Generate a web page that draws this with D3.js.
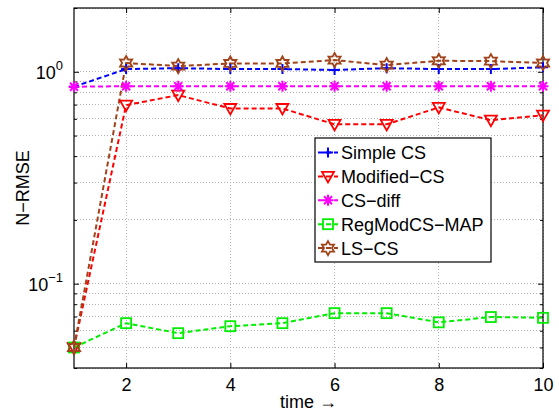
<!DOCTYPE html>
<html>
<head>
<meta charset="utf-8">
<script src="https://cdn.jsdelivr.net/npm/d3@7"></script>
<style>
  body { margin: 0; background: #fff; }
  svg { display: block; font-family: "Liberation Sans", Arial, Helvetica, sans-serif; }
</style>
</head>
<body>
<svg id="chart" width="559" height="415"></svg>
<script>
// Time steps and N-RMSE per method
const time = [1, 2, 3, 4, 5, 6, 7, 8, 9, 10];
const simpleCS   = [0.85, 1.03, 1.04, 1.03, 1.03, 1.02, 1.04, 1.03, 1.03, 1.05];
const modifiedCS = [0.05, 0.696, 0.776, 0.671, 0.671, 0.565, 0.565, 0.679, 0.591, 0.624];
const csDiff     = [0.85, 0.855, 0.855, 0.855, 0.855, 0.855, 0.855, 0.855, 0.855, 0.855];
const regModCS   = [0.05, 0.0651, 0.0584, 0.063, 0.0651, 0.0726, 0.0726, 0.0657, 0.0696, 0.069];
const lsCS       = [0.05, 1.10, 1.064, 1.095, 1.095, 1.136, 1.076, 1.127, 1.123, 1.10];

const seriesNames = ["Simple CS", "Modified\u2212CS", "CS\u2212diff", "RegModCS\u2212MAP", "LS\u2212CS"];
const xTicks = [2, 4, 6, 8, 10];
const yMajorTicks = [0.1, 1];

const series = [
  { name: seriesNames[0], values: simpleCS,   color: "#0000ff", marker: "plus" },
  { name: seriesNames[1], values: modifiedCS, color: "#ff0000", marker: "triangleDown" },
  { name: seriesNames[2], values: csDiff,     color: "#ff00ff", marker: "asterisk" },
  { name: seriesNames[3], values: regModCS,   color: "#00ee00", marker: "square" },
  { name: seriesNames[4], values: lsCS,       color: "#a0421a", marker: "hexagram" }
];

const svg = d3.select("#chart");
const L = 74, R = 543, T = 8, B = 368;

const x = d3.scaleLinear().domain([1, 10]).range([L, R]);
const y = d3.scaleLog().domain([0.04, 2]).range([B, T]);

// minor log ticks
const yMinor = [];
for (const dec of [0.01, 0.1, 1]) {
  for (let k = 2; k <= 9; k++) {
    const v = +(k * dec).toFixed(4);
    if (v >= 0.04 && v <= 2) yMinor.push(v);
  }
}

// grid
const grid = svg.append("g").attr("stroke", "#b5b5b5").attr("stroke-width", 1)
  .attr("stroke-dasharray", "1,2").attr("shape-rendering", "crispEdges");
xTicks.forEach(t => {
  grid.append("line").attr("x1", x(t)).attr("x2", x(t)).attr("y1", T).attr("y2", B);
});
yMajorTicks.concat(yMinor).forEach(v => {
  grid.append("line").attr("x1", L).attr("x2", R).attr("y1", y(v)).attr("y2", y(v));
});

// axes with inward ticks on all four sides
const axB = d3.axisBottom(x).tickValues(xTicks).tickSizeInner(-5).tickSizeOuter(0).tickPadding(10);
const axT = d3.axisTop(x).tickValues(xTicks).tickSizeInner(-5).tickSizeOuter(0).tickFormat("");
const axL = d3.axisLeft(y).tickValues(yMajorTicks).tickSizeInner(-5).tickSizeOuter(0).tickFormat("");
const axR = d3.axisRight(y).tickValues(yMajorTicks).tickSizeInner(-5).tickSizeOuter(0).tickFormat("");
const axLm = d3.axisLeft(y).tickValues(yMinor).tickSizeInner(-3).tickSizeOuter(0).tickFormat("");
const axRm = d3.axisRight(y).tickValues(yMinor).tickSizeInner(-3).tickSizeOuter(0).tickFormat("");

function styleAxis(g) {
  g.select(".domain").remove();
  g.selectAll(".tick line").attr("stroke", "#000").attr("stroke-width", 1);
  g.selectAll(".tick text").attr("font-size", 18).attr("fill", "#000")
    .attr("font-family", "'Liberation Sans', Arial, sans-serif");
}
svg.append("g").attr("transform", `translate(0,${B})`).call(axB).call(styleAxis);
svg.append("g").attr("transform", `translate(0,${T})`).call(axT).call(styleAxis);
svg.append("g").attr("transform", `translate(${L},0)`).call(axL).call(styleAxis);
svg.append("g").attr("transform", `translate(${R},0)`).call(axR).call(styleAxis);
svg.append("g").attr("transform", `translate(${L},0)`).call(axLm).call(styleAxis);
svg.append("g").attr("transform", `translate(${R},0)`).call(axRm).call(styleAxis);

// y tick labels as powers of ten
yMajorTicks.forEach(v => {
  const e = Math.round(Math.log10(v));
  const t = svg.append("text").attr("x", L - 11).attr("y", y(v) + 7)
    .attr("text-anchor", "end").attr("font-size", 18).attr("fill", "#000");
  t.append("tspan").text("10");
  t.append("tspan").attr("dy", -9).attr("font-size", 13).text(e === 0 ? "0" : "\u22121");
});

// box
svg.append("rect").attr("x", L).attr("y", T).attr("width", R - L).attr("height", B - T)
  .attr("fill", "none").attr("stroke", "#000").attr("stroke-width", 1.2);

// marker shapes
function drawMarker(g, type, cx, cy, color) {
  const m = g.append("g").attr("transform", `translate(${cx},${cy})`)
    .attr("fill", "none").attr("stroke", color).attr("stroke-width", 1.6);
  if (type === "plus") {
    m.append("path").attr("d", "M-5,0H5M0,-5V5").attr("stroke-width", 2);
  } else if (type === "triangleDown") {
    m.append("path").attr("d", "M-6,-4.5L6,-4.5L0,6Z").attr("stroke-width", 1.8);
  } else if (type === "asterisk") {
    m.append("path").attr("d", "M-5.5,0H5.5M0,-5.5V5.5M-4,-4L4,4M-4,4L4,-4").attr("stroke-width", 2);
  } else if (type === "square") {
    m.append("rect").attr("x", -5).attr("y", -5).attr("width", 10).attr("height", 10).attr("stroke-width", 1.8);
  } else if (type === "hexagram") {
    const ro = 7, ri = 4;
    const pts = [];
    for (let i = 0; i < 12; i++) {
      const a = -Math.PI / 2 + i * Math.PI / 6;
      const r = i % 2 === 0 ? ro : ri;
      pts.push([r * Math.cos(a), r * Math.sin(a)]);
    }
    m.append("path").attr("d", "M" + pts.map(p => p.join(",")).join("L") + "Z").attr("stroke-width", 1.8);
  }
}

// lines and markers
const line = d3.line().x((d, i) => x(time[i])).y(d => y(d));
const plot = svg.append("g");
series.forEach(s => {
  plot.append("path").datum(s.values).attr("d", line)
    .attr("fill", "none").attr("stroke", s.color).attr("stroke-width", 2)
    .attr("stroke-dasharray", "5,3");
});
series.forEach(s => {
  s.values.forEach((v, i) => drawMarker(plot, s.marker, x(time[i]), y(v), s.color));
});

// legend
const lg = svg.append("g");
lg.append("rect").attr("x", 315).attr("y", 138).attr("width", 176).attr("height", 124)
  .attr("fill", "#fff").attr("stroke", "#000").attr("stroke-width", 1.2);
series.forEach((s, i) => {
  const cy = 152.5 + i * 23.9;
  lg.append("line").attr("x1", 318).attr("x2", 338).attr("y1", cy).attr("y2", cy)
    .attr("stroke", s.color).attr("stroke-width", 2).attr("stroke-dasharray", "5,3");
  drawMarker(lg, s.marker, 328, cy, s.color);
  lg.append("text").attr("x", 341).attr("y", cy + 6.5).attr("font-size", 18)
    .attr("fill", "#000").text(s.name);
});

// axis titles
svg.append("text").attr("x", (L + R) / 2).attr("y", 408).attr("text-anchor", "middle")
  .attr("font-size", 18).attr("fill", "#000").text("time \u2192");
svg.append("text").attr("transform", `translate(29,${(T + B) / 2}) rotate(-90)`)
  .attr("text-anchor", "middle").attr("font-size", 18).attr("fill", "#000").text("N\u2212RMSE");
</script>
</body>
</html>
